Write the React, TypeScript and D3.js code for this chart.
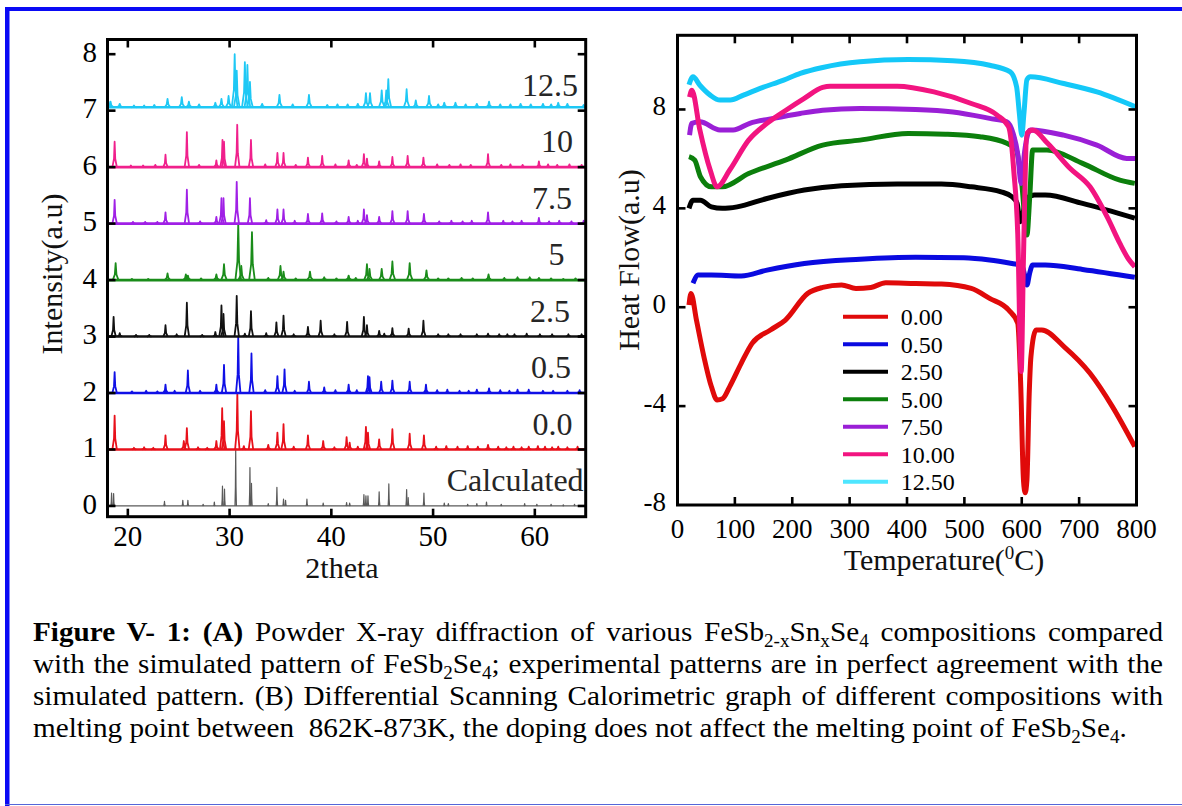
import React, { useEffect, useRef } from "react";
import * as d3 from "d3";

const SERIF = "'Liberation Serif','Times New Roman',Times,serif";

// ---------- Panel A : XRD ----------
const xrdNames = ["Calculated", "0.0", "0.5", "2.5", "5", "7.5", "10", "12.5"];
const xrdOffsets = [0, 1, 2, 3, 4, 5, 6, 7.06];
const xrdColors = ["#5a5a5a", "#e8101a", "#1010e6", "#111111", "#1a8c1a", "#a020e6", "#f0208c", "#1ec8f5"];
const xrdXTicks = [20, 30, 40, 50, 60];
const xrdYTicks = [0, 1, 2, 3, 4, 5, 6, 7, 8];

const xrdCalc: [number, number][] = [
  [18.4, 0.23], [18.6, 0.22], [23.6, 0.08], [25.4, 0.1], [25.9, 0.1], [27.4, 0.03], [28.5, 0.07],
  [29.3, 0.35], [29.5, 0.3], [30.6, 1.02], [32.0, 0.68], [32.15, 0.4], [33.8, 0.04], [34.65, 0.33],
  [35.3, 0.12], [35.5, 0.1], [37.6, 0.12], [39.2, 0.05], [41.5, 0.06], [41.8, 0.05], [43.2, 0.2],
  [43.4, 0.18], [43.6, 0.18], [44.7, 0.25], [45.65, 0.39], [47.4, 0.29], [47.55, 0.15], [49.1, 0.23],
  [51.1, 0.05], [51.5, 0.04], [53.4, 0.03], [54.3, 0.04], [55.25, 0.07], [56.7, 0.03], [59.0, 0.04],
  [60.2, 0.03], [61.6, 0.03], [62.8, 0.02], [63.9, 0.03],
];
const xrd00: [number, number][] = [
  [18.7, 0.6], [20.6, 0.03], [21.6, 0.04], [22.5, 0.03], [23.7, 0.25], [25.5, 0.15], [25.8, 0.38], [26.9, 0.04],
  [27.8, 0.03], [28.7, 0.15], [29.27, 0.73], [29.45, 0.5], [30.76, 1.0], [31.4, 0.06], [32.1, 0.68], [33.8, 0.08],
  [34.7, 0.3], [35.3, 0.45], [36.3, 0.05], [37.7, 0.25], [39.2, 0.15], [40.3, 0.04], [41.5, 0.22],
  [41.8, 0.12], [42.6, 0.05], [43.4, 0.4], [43.6, 0.3], [44.7, 0.18], [46.0, 0.36], [47.7, 0.28], [49.1, 0.25],
  [50.3, 0.05], [51.3, 0.06], [52.4, 0.05], [53.4, 0.06], [54.4, 0.05], [55.4, 0.08], [56.4, 0.05],
  [57.2, 0.04], [57.9, 0.05], [58.7, 0.04], [59.4, 0.05], [60.3, 0.06], [61.0, 0.05], [61.7, 0.04],
  [62.3, 0.05], [63.2, 0.04], [64.2, 0.05],
];
const xrd05: [number, number][] = [
  [18.7, 0.37], [20.4, 0.03], [21.8, 0.04], [22.9, 0.03], [23.7, 0.15], [24.6, 0.04], [25.9, 0.4],
  [27.1, 0.04], [28.7, 0.15], [29.45, 0.5], [30.85, 1.0], [32.15, 0.7], [33.5, 0.05], [34.7, 0.3],
  [35.4, 0.42], [36.4, 0.04], [37.8, 0.2], [39.3, 0.1], [40.4, 0.05], [41.7, 0.15], [42.5, 0.05],
  [43.6, 0.3], [43.75, 0.28], [44.9, 0.2], [46.0, 0.22], [47.7, 0.2], [49.3, 0.15], [50.4, 0.05],
  [51.4, 0.06], [52.6, 0.04], [53.5, 0.04], [54.3, 0.06], [55.5, 0.08], [56.6, 0.05], [57.5, 0.04],
  [58.3, 0.06], [59.4, 0.06], [60.8, 0.04], [61.8, 0.04], [63.2, 0.04], [64.4, 0.05],
];
const xrd25: [number, number][] = [
  [18.6, 0.35], [19.2, 0.06], [20.8, 0.03], [22.1, 0.03], [23.7, 0.2], [24.8, 0.04], [25.8, 0.6],
  [27.3, 0.03], [28.6, 0.08], [29.2, 0.55], [29.4, 0.4], [30.7, 0.72], [31.5, 0.05], [32.1, 0.45],
  [33.6, 0.06], [34.6, 0.25], [35.3, 0.37], [36.3, 0.04], [37.7, 0.17], [38.95, 0.28], [40.3, 0.04],
  [41.55, 0.26], [43.2, 0.35], [43.5, 0.2], [44.7, 0.1], [45.2, 0.05], [46.0, 0.15], [47.6, 0.14],
  [49.05, 0.28], [50.5, 0.04], [51.5, 0.04], [52.7, 0.04], [54.3, 0.04], [55.4, 0.05], [56.5, 0.04],
  [57.3, 0.04], [58.0, 0.04], [59.2, 0.05], [60.5, 0.04], [61.7, 0.04], [63.3, 0.04], [64.6, 0.04],
];
const xrd5: [number, number][] = [
  [18.8, 0.3], [20.4, 0.02], [22.0, 0.02], [23.9, 0.12], [25.7, 0.1], [25.9, 0.08], [27.2, 0.03],
  [28.7, 0.1], [29.45, 0.28], [30.85, 1.0], [31.15, 0.25], [32.2, 0.85], [33.8, 0.04], [35.0, 0.25],
  [35.3, 0.15], [36.5, 0.03], [37.9, 0.15], [39.3, 0.05], [40.5, 0.03], [41.7, 0.08], [42.4, 0.04],
  [43.5, 0.28], [43.75, 0.2], [44.95, 0.2], [46.0, 0.33], [47.7, 0.3], [49.35, 0.17], [50.5, 0.03],
  [51.5, 0.03], [52.8, 0.04], [53.9, 0.03], [55.45, 0.1], [57.0, 0.04], [58.3, 0.05], [59.5, 0.05],
  [60.4, 0.04], [61.6, 0.03], [62.8, 0.02], [64.0, 0.03],
];
const xrd75: [number, number][] = [
  [18.7, 0.42], [20.5, 0.03], [21.7, 0.03], [22.9, 0.03], [23.7, 0.2], [25.8, 0.6], [27.1, 0.04],
  [28.7, 0.12], [29.2, 0.45], [29.4, 0.45], [30.7, 0.74], [32.0, 0.45], [33.6, 0.06], [34.7, 0.25],
  [35.3, 0.25], [36.4, 0.05], [37.7, 0.17], [39.1, 0.18], [40.5, 0.04], [41.7, 0.12], [42.6, 0.05],
  [43.2, 0.25], [43.5, 0.15], [44.7, 0.12], [46.0, 0.22], [47.5, 0.22], [49.1, 0.17], [50.6, 0.04],
  [51.8, 0.05], [52.9, 0.04], [53.8, 0.05], [55.4, 0.2], [56.9, 0.05], [57.8, 0.04], [58.7, 0.05],
  [60.4, 0.1], [61.4, 0.04], [62.4, 0.05], [63.6, 0.04], [64.8, 0.05],
];
const xrd10: [number, number][] = [
  [18.7, 0.45], [20.3, 0.03], [21.5, 0.03], [22.7, 0.04], [23.7, 0.22], [25.8, 0.62], [27.0, 0.04],
  [28.7, 0.12], [29.3, 0.48], [29.45, 0.45], [30.75, 0.75], [32.1, 0.48], [33.5, 0.05], [34.7, 0.25],
  [35.3, 0.25], [36.5, 0.04], [37.7, 0.17], [39.1, 0.2], [40.4, 0.05], [41.7, 0.12], [42.5, 0.04],
  [43.2, 0.23], [43.5, 0.15], [44.7, 0.1], [46.0, 0.18], [47.5, 0.2], [49.05, 0.17], [50.4, 0.05],
  [51.6, 0.04], [52.7, 0.05], [53.7, 0.04], [55.4, 0.23], [56.7, 0.04], [57.6, 0.05], [58.8, 0.04],
  [60.4, 0.1], [61.3, 0.05], [62.2, 0.04], [63.4, 0.05], [64.6, 0.04],
];
const xrd125: [number, number][] = [
  [18.1, 0.1], [18.3, 0.1], [19.2, 0.06], [20.6, 0.03], [21.6, 0.03], [22.6, 0.04], [23.9, 0.15],
  [25.3, 0.18], [26.0, 0.1], [27.0, 0.05], [28.6, 0.08], [29.2, 0.15], [29.9, 0.2], [30.5, 0.94],
  [30.7, 0.65], [31.5, 0.8], [31.75, 0.75], [32.0, 0.45], [33.2, 0.06], [34.9, 0.22], [36.2, 0.05],
  [37.8, 0.22], [39.6, 0.04], [40.6, 0.05], [41.6, 0.05], [42.6, 0.06], [43.4, 0.25], [43.8, 0.25],
  [44.95, 0.3], [45.4, 0.3], [45.6, 0.5], [47.4, 0.32], [48.3, 0.12], [49.6, 0.2], [50.5, 0.05],
  [51.1, 0.08], [52.2, 0.08], [53.2, 0.05], [54.3, 0.06], [55.5, 0.1], [56.6, 0.05], [57.6, 0.05],
  [58.6, 0.06], [59.6, 0.05], [60.8, 0.06], [61.6, 0.05], [62.3, 0.08], [63.2, 0.06], [64.8, 0.04],
];
const xrdPeaks = [xrdCalc, xrd00, xrd05, xrd25, xrd5, xrd75, xrd10, xrd125];

// ---------- Panel B : DSC ----------
const dscNames = ["0.00", "0.50", "2.50", "5.00", "7.50", "10.00", "12.50"];
const dscColors = ["#e00a0a", "#0a0ae0", "#000000", "#0c7f0c", "#9a1fd6", "#f21480", "#14c8f8"];
const dscLegendColors = ["#e00a0a", "#0a0ae0", "#000000", "#0c7f0c", "#9a1fd6", "#f21480", "#4ee6ff"];
const dscXTicks = [0, 100, 200, 300, 400, 500, 600, 700, 800];
const dscYTicks = [-8, -4, 0, 4, 8];

const dsc000: [number, number][] = [
  [20, 0.09], [23.5, 0.56], [33, -0.52], [46, -2.0], [59, -3.21], [69, -3.75], [78.5, -3.7], [91, -3.21],
  [111, -2.27], [130, -1.46], [162, -0.92], [188, -0.52], [227, 0.56], [253, 0.8], [286, 0.9], [311, 0.76],
  [337, 0.8], [363, 0.99], [415, 0.96], [460, 0.94], [512, 0.76], [544, 0.36], [577, -0.11], [593, -0.65],
  [598, -3.0], [603, -7.0], [606, -7.5], [609, -7.0], [613, -3.5], [616, -2.0], [625, -0.92], [635, -0.92],
  [674, -1.6], [719, -2.67], [758, -4.02], [797, -5.64],
];
const dsc050: [number, number][] = [
  [27, 0.97], [36, 1.3], [59, 1.3], [111, 1.26], [156, 1.5], [221, 1.77], [318, 1.94], [415, 2.02],
  [499, 2.0], [544, 1.91], [583, 1.77], [600, 1.7], [605, 1.3], [609, 0.9], [614, 1.4], [619, 1.71],
  [641, 1.71], [706, 1.53], [797, 1.21],
];
const dsc250: [number, number][] = [
  [20, 4.0], [27, 4.33], [40, 4.33], [59, 4.06], [78, 4.0], [104, 4.06], [156, 4.4], [221, 4.74],
  [286, 4.91], [383, 4.98], [460, 4.98], [512, 4.87], [564, 4.67], [583, 4.47], [592, 4.2], [597, 3.46],
  [602, 3.8], [609, 4.4], [622, 4.54], [641, 4.54], [706, 4.2], [797, 3.6],
];
const dsc500: [number, number][] = [
  [20, 6.09], [30, 5.95], [40, 5.28], [59, 4.87], [78, 4.87], [124, 5.41], [188, 5.95], [253, 6.56],
  [318, 6.76], [402, 7.03], [467, 7.0], [527, 6.9], [574, 6.63], [590, 6.4], [600, 5.0], [609, 2.92],
  [614, 4.5], [619, 6.36], [644, 6.36], [706, 5.82], [771, 5.14], [797, 5.01],
];
const dsc750: [number, number][] = [
  [21, 6.96], [25, 7.44], [39, 7.5], [74, 7.17], [97, 7.17], [126, 7.44], [167, 7.64], [214, 7.84],
  [253, 7.97], [318, 8.04], [415, 8.0], [480, 7.9], [544, 7.64], [574, 7.5], [585, 7.03], [593, 6.2],
  [599, 5.01], [605, 6.3], [612, 7.1], [615, 7.17], [673, 6.96], [731, 6.56], [783, 6.02], [798, 6.02],
];
const dsc1000: [number, number][] = [
  [21, 8.5], [25, 8.78], [39, 7.17], [57, 5.55], [69, 4.87], [91, 5.55], [124, 6.76], [156, 7.44],
  [189, 7.97], [221, 8.45], [253, 8.89], [266, 8.94], [383, 8.94], [447, 8.71], [512, 8.24], [557, 7.77],
  [577, 7.3], [583, 6.4], [586, 5.55], [593, 2.99], [599, -2.6], [603, 2.0], [609, 7.03], [619, 7.17],
  [645, 6.63], [684, 5.62], [719, 4.87], [750, 3.6], [771, 2.58], [786, 1.95], [797, 1.64],
];
const dsc1250: [number, number][] = [
  [20, 9.0], [27, 9.32], [39, 8.98], [57, 8.58], [74, 8.38], [92, 8.38], [115, 8.58], [144, 8.85],
  [185, 9.19], [214, 9.46], [253, 9.7], [318, 9.93], [402, 10.02], [480, 9.97], [544, 9.79], [580, 9.52],
  [591, 8.92], [596, 7.8], [600, 6.96], [604, 7.9], [609, 9.2], [615, 9.32], [673, 9.05], [731, 8.71],
  [798, 8.11],
];
const dscSeries = [dsc000, dsc050, dsc250, dsc500, dsc750, dsc1000, dsc1250];

// ---------- Caption ----------
type Seg = { t: string; b?: boolean; sub?: boolean };
const captionLines: Seg[][] = [
  [
    { t: "Figure V- 1: (A)", b: true },
    { t: " Powder X-ray diffraction of various FeSb" },
    { t: "2-x", sub: true },
    { t: "Sn" },
    { t: "x", sub: true },
    { t: "Se" },
    { t: "4", sub: true },
    { t: " compositions compared" },
  ],
  [
    { t: "with the simulated pattern of FeSb" },
    { t: "2", sub: true },
    { t: "Se" },
    { t: "4", sub: true },
    { t: "; experimental patterns are in perfect agreement with the" },
  ],
  [{ t: "simulated pattern. (B) Differential Scanning Calorimetric graph of different compositions with" }],
  [
    { t: "melting point between  862K-873K, the doping does not affect the melting point of FeSb" },
    { t: "2", sub: true },
    { t: "Se" },
    { t: "4", sub: true },
    { t: "." },
  ],
];

export default function App() {
  const ref = useRef<SVGSVGElement>(null);

  useEffect(() => {
    document.body.style.margin = "0";
    const svg = d3.select(ref.current);
    svg.selectAll("*").remove();

    // border
    svg.append("rect").attr("x", 0).attr("y", 0).attr("width", 1182).attr("height", 806).attr("fill", "#fff");
    svg.append("rect").attr("x", 5).attr("y", 7).attr("width", 1177).attr("height", 4).attr("fill", "#0a0af5");
    svg.append("rect").attr("x", 5).attr("y", 7).attr("width", 4.5).attr("height", 799).attr("fill", "#0a0af5");
    svg.append("line").attr("x1", 5).attr("x2", 1182).attr("y1", 804.5).attr("y2", 804.5)
      .attr("stroke", "#5566d8").attr("stroke-width", 1.2);

    // ===== Panel A =====
    const xA = d3.scaleLinear().domain([18, 65]).range([107.5, 585.7]);
    const yA = d3.scaleLinear().domain([-0.19, 8.26]).range([516.7, 39.5]);
    const gA = svg.append("g");
    const defs = svg.append("defs");
    defs.append("clipPath").attr("id", "clipA").append("rect")
      .attr("x", xA(18)).attr("y", yA(8.26)).attr("width", xA(65) - xA(18)).attr("height", yA(-0.19) - yA(8.26));
    defs.append("clipPath").attr("id", "clipB").append("rect")
      .attr("x", 677.5).attr("y", 35.3).attr("width", 459).attr("height", 469.7);

    const plotA = gA.append("g").attr("clip-path", "url(#clipA)");
    const lineA = d3.line<[number, number]>().x((d) => xA(d[0])).y((d) => yA(d[1]));
    xrdPeaks.forEach((peaks, i) => {
      const base = xrdOffsets[i];
      const calc = i === 0;
      const broad = i === 4 || i === 7;
      const w1 = calc ? 0.03 : broad ? 0.08 : 0.06;
      const w2 = calc ? 0.07 : broad ? 0.28 : 0.22;
      const col = xrdColors[i];
      const sw = calc ? 1.2 : 1.8;
      plotA.append("path")
        .attr("d", lineA([[18, base], [65, base]]))
        .attr("fill", "none").attr("stroke", col).attr("stroke-width", calc ? 1.3 : 2.6);
      peaks.forEach(([p, h]) => {
        const pts: [number, number][] = [
          [p - w2, base], [p - w1, base + h * 0.33], [p, base + h], [p + w1, base + h * 0.33], [p + w2, base],
        ];
        plotA.append("path").attr("d", lineA(pts)).attr("fill", "none")
          .attr("stroke", col).attr("stroke-width", sw).attr("stroke-linejoin", "round");
      });
    });

    // series labels
    const labelRight = [583.6, 572.5, 571, 570, 564.5, 572, 573, 578];
    xrdNames.forEach((n, i) => {
      gA.append("text").attr("x", labelRight[i]).attr("y", yA(Math.round(xrdOffsets[i]) + 0.46))
        .attr("dy", "0.35em").attr("text-anchor", "end")
        .attr("font-family", SERIF).attr("font-size", 32).attr("fill", "#262626").text(n);
    });

    // frame & ticks
    gA.append("rect").attr("x", xA(18)).attr("y", yA(8.26)).attr("width", xA(65) - xA(18))
      .attr("height", yA(-0.19) - yA(8.26)).attr("fill", "none").attr("stroke", "#000").attr("stroke-width", 3);
    xrdXTicks.forEach((t) => {
      gA.append("line").attr("x1", xA(t)).attr("x2", xA(t)).attr("y1", yA(-0.19)).attr("y2", yA(-0.19) - 8)
        .attr("stroke", "#000").attr("stroke-width", 2.6);
      gA.append("line").attr("x1", xA(t)).attr("x2", xA(t)).attr("y1", yA(8.26)).attr("y2", yA(8.26) + 8)
        .attr("stroke", "#000").attr("stroke-width", 2.6);
      gA.append("text").attr("x", xA(t)).attr("y", 546).attr("text-anchor", "middle")
        .attr("font-family", SERIF).attr("font-size", 29).attr("fill", "#000").text(String(t));
    });
    xrdYTicks.forEach((t) => {
      gA.append("line").attr("x1", xA(18)).attr("x2", xA(18) + 8).attr("y1", yA(t)).attr("y2", yA(t))
        .attr("stroke", "#000").attr("stroke-width", 2.6);
      gA.append("line").attr("x1", xA(65)).attr("x2", xA(65) - 8).attr("y1", yA(t)).attr("y2", yA(t))
        .attr("stroke", "#000").attr("stroke-width", 2.6);
      gA.append("text").attr("x", 97).attr("y", yA(t) - 2.5).attr("dy", "0.35em").attr("text-anchor", "end")
        .attr("font-family", SERIF).attr("font-size", 29).attr("fill", "#000").text(String(t));
    });
    gA.append("text").attr("x", 342).attr("y", 578).attr("text-anchor", "middle")
      .attr("font-family", SERIF).attr("font-size", 30).attr("fill", "#111").text("2theta");
    gA.append("text").attr("transform", "translate(62,274) rotate(-90)").attr("text-anchor", "middle")
      .attr("font-family", SERIF).attr("font-size", 30).attr("fill", "#111").text("Intensity(a.u)");

    // ===== Panel B =====
    const xB = d3.scaleLinear().domain([0, 800]).range([677.5, 1136.5]);
    const yB = d3.scaleLinear().domain([-8, 11]).range([505, 35.3]);
    const gB = svg.append("g");
    const plotB = gB.append("g").attr("clip-path", "url(#clipB)");
    const lineB = d3.line<[number, number]>().x((d) => xB(d[0])).y((d) => yB(d[1])).curve(d3.curveMonotoneX);
    dscSeries.forEach((s, i) => {
      plotB.append("path").attr("d", lineB(s)).attr("fill", "none").attr("stroke", dscColors[i])
        .attr("stroke-width", 5).attr("stroke-linejoin", "round").attr("stroke-linecap", "butt");
    });
    gB.append("rect").attr("x", xB(0)).attr("y", yB(11)).attr("width", xB(800) - xB(0))
      .attr("height", yB(-8) - yB(11)).attr("fill", "none").attr("stroke", "#000").attr("stroke-width", 3);
    dscXTicks.forEach((t) => {
      if (t > 0 && t < 800) {
        gB.append("line").attr("x1", xB(t)).attr("x2", xB(t)).attr("y1", yB(-8)).attr("y2", yB(-8) - 8)
          .attr("stroke", "#000").attr("stroke-width", 2.6);
        gB.append("line").attr("x1", xB(t)).attr("x2", xB(t)).attr("y1", yB(11)).attr("y2", yB(11) + 8)
          .attr("stroke", "#000").attr("stroke-width", 2.6);
      }
      gB.append("text").attr("x", xB(t)).attr("y", 538).attr("text-anchor", "middle")
        .attr("font-family", SERIF).attr("font-size", 27).attr("fill", "#000").text(String(t));
    });
    dscYTicks.forEach((t) => {
      if (t > -8) {
        gB.append("line").attr("x1", xB(0)).attr("x2", xB(0) + 8).attr("y1", yB(t)).attr("y2", yB(t))
          .attr("stroke", "#000").attr("stroke-width", 2.6);
        gB.append("line").attr("x1", xB(800)).attr("x2", xB(800) - 8).attr("y1", yB(t)).attr("y2", yB(t))
          .attr("stroke", "#000").attr("stroke-width", 2.6);
      }
      gB.append("text").attr("x", 666).attr("y", yB(t) - 3.5).attr("dy", "0.35em").attr("text-anchor", "end")
        .attr("font-family", SERIF).attr("font-size", 27).attr("fill", "#000").text(String(t));
    });
    const tt = gB.append("text").attr("x", 944).attr("y", 570).attr("text-anchor", "middle")
      .attr("font-family", SERIF).attr("font-size", 30).attr("fill", "#111");
    tt.append("tspan").text("Temperature(");
    tt.append("tspan").attr("font-size", 19).attr("dy", -11).text("0");
    tt.append("tspan").attr("dy", 11).text("C)");
    gB.append("text").attr("transform", "translate(639,260) rotate(-90)").attr("text-anchor", "middle")
      .attr("font-family", SERIF).attr("font-size", 30).attr("fill", "#111").text("Heat Flow(a.u)");

    // legend
    const legY0 = 316.7, legDy = 27.5;
    dscNames.forEach((n, i) => {
      const y = legY0 + i * legDy;
      gB.append("line").attr("x1", 843).attr("x2", 888).attr("y1", y).attr("y2", y)
        .attr("stroke", dscLegendColors[i]).attr("stroke-width", 4);
      gB.append("text").attr("x", 900.7).attr("y", y).attr("dy", "0.35em")
        .attr("font-family", SERIF).attr("font-size", 24).attr("fill", "#000").text(n);
    });

    // ===== Caption =====
    const capX0 = 33, capX1 = 1163, capLastEnd = 1127;
    const baseY = 641, lh = 32, fs = 27.5;
    const subFs = 18, subShift = 6.5;
    const capG = svg.append("g").attr("font-family", SERIF).attr("font-size", fs).attr("fill", "#000");
    const nodes: SVGTextElement[] = [];
    captionLines.forEach((segs, li) => {
      const t = capG.append("text").attr("x", 0).attr("y", baseY + li * lh).style("white-space", "pre");
      let shift = 0;
      segs.forEach((s) => {
        const target = s.sub ? subShift : 0;
        const sp = t.append("tspan").text(s.t);
        if (target !== shift) sp.attr("dy", target - shift);
        shift = target;
        if (s.sub) sp.attr("font-size", subFs);
        if (s.b) sp.attr("font-weight", "bold");
      });
      nodes.push(t.node() as SVGTextElement);
    });
    const w4 = nodes[3].getComputedTextLength();
    let sx = (capLastEnd - capX0) / w4;
    if (!isFinite(sx) || sx < 0.85 || sx > 1.35) sx = 1;
    capG.attr("transform", `translate(${capX0},0) scale(${sx},1)`);
    const targetLocal = (capX1 - capX0) / sx;
    for (let i = 0; i < 3; i++) {
      const natural = nodes[i].getComputedTextLength();
      const txt = captionLines[i].map((s) => s.t).join("");
      const nSp = (txt.match(/ /g) || []).length;
      if (nSp > 0) d3.select(nodes[i]).attr("word-spacing", (targetLocal - natural) / nSp);
    }
  }, []);

  return (
    <svg ref={ref} width={1182} height={806}
      style={{ position: "absolute", left: 0, top: 0, display: "block", background: "#fff" }} />
  );
}
